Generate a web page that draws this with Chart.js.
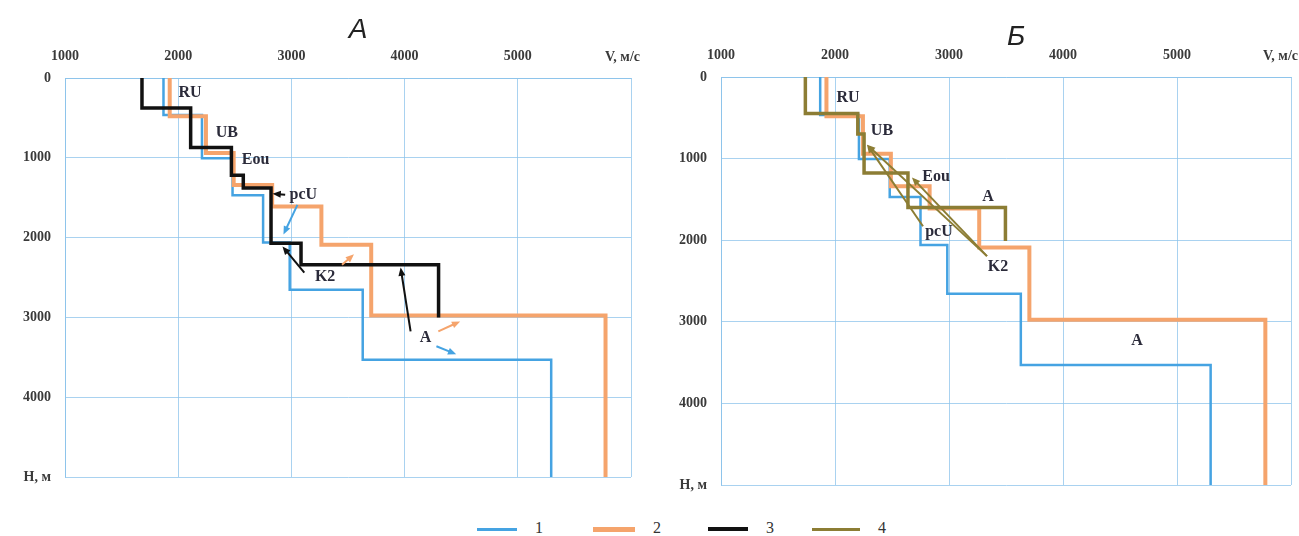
<!DOCTYPE html>
<html>
<head>
<meta charset="utf-8">
<script src="https://cdn.jsdelivr.net/npm/chart.js@4"></script>
<style>
  html, body { margin: 0; padding: 0; background: #fff; }
  #wrap { position: relative; width: 1299px; height: 536px; overflow: hidden; }
  #boxA { position: absolute; left: 0; top: 0; width: 650px; height: 500px; }
  #boxB { position: absolute; left: 650px; top: 0; width: 649px; height: 500px; }
  .lg-line { position: absolute; }
  .lg-text { position: absolute; top: 519px; font: 16px "Liberation Serif", serif; color: #333; }
</style>
</head>
<body>
<div id="wrap">
  <div id="boxA"><canvas id="chartA"></canvas></div>
  <div id="boxB"><canvas id="chartB"></canvas></div>
  <div id="legend"></div>
</div>
<script>
// скорости по слоям (м/с) и границы слоёв (м)
var v1 = [1870, 2210, 2480, 2750, 2985, 3630, 5295];
var h1 = [0, 465, 1005, 1470, 2060, 2655, 3530, 5000];
var v2 = [1925, 2245, 2490, 2830, 3265, 3705, 5775];
var h2 = [0, 480, 940, 1340, 1610, 2090, 2975, 5000];
var v3 = [1680, 2110, 2470, 2575, 2820, 3085, 4300];
var h3 = [0, 375, 870, 1220, 1380, 2070, 2340, 3000];
var v4 = [1740, 2200, 2255, 2640, 3495];
var h4 = [0, 447, 700, 1175, 1600, 2010];

var xTicks = [1000, 2000, 3000, 4000, 5000, 6000];
var yTicks = [0, 1000, 2000, 3000, 4000, 5000];
var seriesNames = ['1', '2', '3', '4'];

var colors = ['#45a3e2', '#f5a46c', '#111111', '#8c7d34'];

// подписи и стрелки (в координатах V, H)
var notesA = [
  {t: 'RU', v: 2105, h: 188}, {t: 'UB', v: 2430, h: 690}, {t: 'Eou', v: 2684, h: 1025},
  {t: 'pcU', v: 3105, h: 1462}, {t: 'K2', v: 3298, h: 2487}, {t: 'A', v: 4184, h: 3262}
];
var arrowsA = [
  {c: 2, from: [2945, 1462], to: [2833, 1450]},
  {c: 0, from: [3053, 1590], to: [2930, 1960]},
  {c: 2, from: [3114, 2440], to: [2921, 2110]},
  {c: 1, from: [3447, 2340], to: [3553, 2210]},
  {c: 2, from: [4053, 3175], to: [3965, 2375]},
  {c: 1, from: [4298, 3175], to: [4491, 3050]},
  {c: 0, from: [4281, 3362], to: [4456, 3462]}
];
var notesB = [
  {t: 'RU', v: 2114, h: 256}, {t: 'UB', v: 2412, h: 659}, {t: 'Eou', v: 2886, h: 1220},
  {t: 'A', v: 3342, h: 1463}, {t: 'pcU', v: 2912, h: 1902}, {t: 'K2', v: 3430, h: 2329},
  {t: 'A', v: 4650, h: 3232}
];
var arrowsB = [
  {c: 3, from: [2772, 1829], to: [2281, 829]},
  {c: 3, from: [3333, 2195], to: [2281, 829]},
  {c: 3, from: [3333, 2195], to: [2675, 1232]}
];

function steps(V, H) {
  var pts = [];
  V.forEach(function (v, i) {
    pts.push({x: v, y: H[i]});
    pts.push({x: v, y: H[i + 1]});
  });
  return pts;
}

function ds(V, H, idx, width, order) {
  return {
    label: seriesNames[idx],
    data: steps(V, H),
    borderColor: colors[idx],
    borderWidth: width,
    pointRadius: 0,
    showLine: true,
    fill: false,
    tension: 0,
    borderJoinStyle: 'miter',
    order: order
  };
}

var notesPlugin = {
  id: 'notes',
  afterDatasetsDraw: function (chart) {
    var o = chart.options.plugins.notes;
    var ctx = chart.ctx, sx = chart.scales.x, sy = chart.scales.y;
    ctx.save();
    o.arrows.forEach(function (a) {
      var x1 = sx.getPixelForValue(a.from[0]), y1 = sy.getPixelForValue(a.from[1]);
      var x2 = sx.getPixelForValue(a.to[0]), y2 = sy.getPixelForValue(a.to[1]);
      var ang = Math.atan2(y2 - y1, x2 - x1), L = 9;
      ctx.strokeStyle = colors[a.c];
      ctx.fillStyle = colors[a.c];
      ctx.lineWidth = 2;
      ctx.beginPath();
      ctx.moveTo(x1, y1);
      ctx.lineTo(x2 - Math.cos(ang) * L * 0.7, y2 - Math.sin(ang) * L * 0.7);
      ctx.stroke();
      ctx.beginPath();
      ctx.moveTo(x2, y2);
      ctx.lineTo(x2 - L * Math.cos(ang - 0.4), y2 - L * Math.sin(ang - 0.4));
      ctx.lineTo(x2 - L * Math.cos(ang + 0.4), y2 - L * Math.sin(ang + 0.4));
      ctx.closePath();
      ctx.fill();
    });
    ctx.font = 'bold 16px "Liberation Serif"';
    ctx.fillStyle = '#2b2b3a';
    ctx.textAlign = 'center';
    ctx.textBaseline = 'middle';
    o.labels.forEach(function (n) {
      ctx.fillText(n.t, sx.getPixelForValue(n.v), sy.getPixelForValue(n.h));
    });
    // заголовок оси V
    ctx.font = 'bold 14px "Liberation Serif"';
    ctx.fillStyle = '#3a3a3a';
    ctx.textAlign = 'right';
    ctx.fillText('V, м/с', Math.min(chart.chartArea.right + 9, chart.width - 1), o.axisY);
    // заголовок панели
    ctx.font = 'italic 28px "Liberation Sans"';
    ctx.fillStyle = '#222';
    ctx.textAlign = 'center';
    ctx.fillText(o.title, (chart.chartArea.left + chart.chartArea.right) / 2 + o.titleDx, o.titleY);
    ctx.restore();
  }
};

function noOverflow(s) {
  s.paddingTop = 0; s.paddingBottom = 0; s.paddingLeft = 0; s.paddingRight = 0;
}

function makeChart(id, datasets, top, left, padR, padB, notes, arrows, title, titleDx, titleY) {
  return new Chart(document.getElementById(id).getContext('2d'), {
    type: 'scatter',
    data: { datasets: datasets },
    options: {
      responsive: true,
      maintainAspectRatio: false,
      animation: false,
      layout: { padding: { top: 0, left: 0, right: padR, bottom: padB } },
      scales: {
        x: {
          type: 'linear',
          position: 'top',
          min: xTicks[0],
          max: xTicks[xTicks.length - 1],
          afterFit: function (s) { s.height = top; noOverflow(s); },
          afterBuildTicks: function (s) { s.ticks = xTicks.map(function (v) { return {value: v}; }); },
          grid: { color: 'rgba(140,195,235,0.75)', lineWidth: 1, drawTicks: false },
          border: { color: 'rgba(140,195,235,0.9)' },
          ticks: {
            padding: 13,
            color: '#3a3a3a',
            font: { family: 'Liberation Serif', size: 14, weight: 'bold' },
            callback: function (v) { return v === 6000 ? '' : v; }
          }
        },
        y: {
          type: 'linear',
          reverse: true,
          min: yTicks[0],
          max: yTicks[yTicks.length - 1],
          afterFit: function (s) { s.width = left; noOverflow(s); },
          afterBuildTicks: function (s) { s.ticks = yTicks.map(function (v) { return {value: v}; }); },
          grid: { color: 'rgba(140,195,235,0.75)', lineWidth: 1, drawTicks: false },
          border: { color: 'rgba(140,195,235,0.9)' },
          ticks: {
            padding: 14,
            color: '#3a3a3a',
            font: { family: 'Liberation Serif', size: 14, weight: 'bold' },
            callback: function (v) { return v === 5000 ? 'Н, м' : v; }
          }
        }
      },
      plugins: {
        legend: { display: false },
        tooltip: { enabled: false },
        notes: { labels: notes, arrows: arrows, title: title, titleDx: titleDx, titleY: titleY, axisY: top - 21 }
      }
    },
    plugins: [notesPlugin]
  });
}

makeChart('chartA', [
  ds(v1, h1, 0, 2.5, 3),
  ds(v2, h2, 1, 4, 2),
  ds(v3, h3, 2, 3.5, 0)
], 78, 65, 19, 23, notesA, arrowsA, 'А', 10, 30);

makeChart('chartB', [
  ds(v1, h1, 0, 2.5, 3),
  ds(v2, h2, 1, 4, 2),
  ds(v4, h4, 3, 3.5, 0)
], 77, 71, 8, 15, notesB, arrowsB, 'Б', 10, 37);

// общая легенда внизу
var lgX = [477, 593, 708, 812];
var lgW = [40, 42, 40, 48];
var lgH = [3, 5, 4, 3];
var legend = document.getElementById('legend');
seriesNames.forEach(function (name, i) {
  var ln = document.createElement('div');
  ln.className = 'lg-line';
  ln.style.left = lgX[i] + 'px';
  ln.style.width = lgW[i] + 'px';
  ln.style.height = lgH[i] + 'px';
  ln.style.top = (529 - lgH[i] / 2) + 'px';
  ln.style.background = colors[i];
  legend.appendChild(ln);
  var tx = document.createElement('div');
  tx.className = 'lg-text';
  tx.style.left = (lgX[i] + lgW[i] + 18) + 'px';
  tx.textContent = name;
  legend.appendChild(tx);
});
</script>
</body>
</html>
